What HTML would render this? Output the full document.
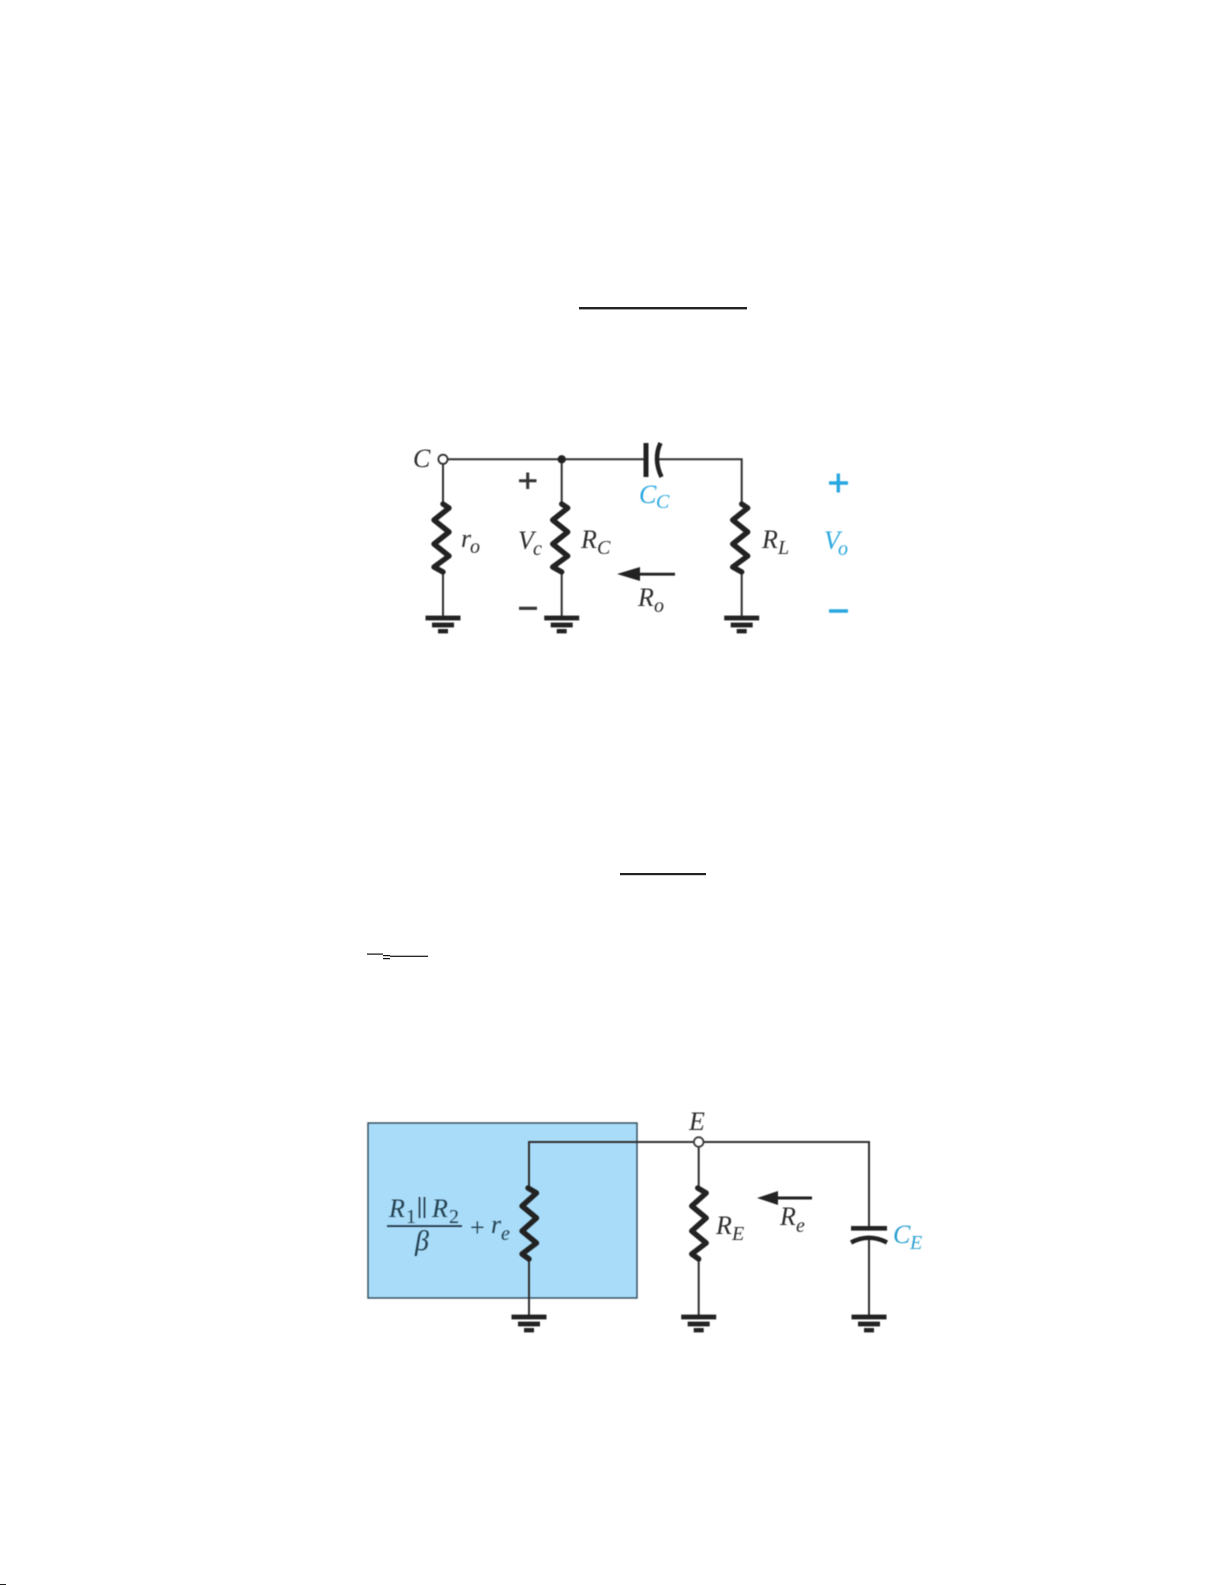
<!DOCTYPE html>
<html>
<head>
<meta charset="utf-8">
<style>
html,body{margin:0;padding:0;background:#fff;width:1225px;height:1585px;overflow:hidden}
svg{display:block}
text{font-family:"Liberation Serif",serif;font-style:italic;fill:#2b2b2b}
.m{font-size:26px}
.s{font-size:20px}
.b{fill:#29a7df}
.w{fill:none;stroke:#2f2f2f;stroke-width:2}
.r{fill:none;stroke:#222;stroke-width:5.4;stroke-linejoin:round;stroke-linecap:round}
.c{filter:blur(.45px)}
.d{fill:#24404f}
</style>
</head>
<body>
<svg width="1225" height="1585" viewBox="0 0 1225 1585" xmlns="http://www.w3.org/2000/svg">
<defs>
<g id="gnd" fill="#222">
<rect x="-17.5" y="-2.4" width="35" height="4.8"/>
<rect x="-11" y="4.6" width="22" height="4.8"/>
<rect x="-5" y="11" width="10" height="4.4"/>
</g>
<path id="res" class="r" d="M0,1 L6,5 L-9,17 L6,29 L-9,41 L6,53 L-9,64 L0,69"/>
<path id="res2" class="r" d="M-1,1 L7.5,6 L-7,19 L7.5,31 L-7,44 L7.5,56 L-7,67 L0,72"/>
</defs>

<!-- stray lines -->
<rect x="579" y="307" width="168" height="2.4" fill="#222"/>
<rect x="620" y="873" width="86" height="2.2" fill="#222"/>
<rect x="367" y="953.5" width="16" height="1.2" fill="#111"/>
<rect x="383" y="955" width="7" height="1.2" fill="#111"/>
<rect x="383" y="958" width="7" height="1.2" fill="#111"/>
<rect x="390" y="955.7" width="38" height="1.2" fill="#111"/>
<rect x="0" y="1584" width="6" height="1" fill="#222"/>

<!-- top circuit -->
<g class="c">
<path class="w" d="M443,459.3H646M656,459.3H741.7V503M741.7,573V618M561.7,459.3V503M561.7,573V618M443,459.3V503M443,573V618"/>
<use href="#res" x="443" y="503"/>
<use href="#res" x="561.7" y="503"/>
<use href="#res" x="741.7" y="503"/>
<use href="#gnd" x="443" y="618"/>
<use href="#gnd" x="561.7" y="618"/>
<use href="#gnd" x="741.7" y="618"/>
<circle cx="443" cy="459.3" r="4.6" fill="#fff" stroke="#2f2f2f" stroke-width="1.8"/>
<circle cx="561.7" cy="459.3" r="4.2" fill="#222"/>
<rect x="643.5" y="443" width="5" height="34" fill="#222"/>
<path d="M660.5,443Q653,459 661.5,477" fill="none" stroke="#222" stroke-width="4.5"/>
<path d="M527.7,472.5V489M519,480.7H536.5" stroke="#333" stroke-width="3" fill="none"/>
<path d="M519,608.3H537" stroke="#333" stroke-width="3.2" fill="none"/>
<path d="M829,483H848M838.3,473.5V492.5" stroke="#29a7df" stroke-width="3.4" fill="none"/>
<path d="M829,611H848" stroke="#29a7df" stroke-width="3.4" fill="none"/>
<path d="M617,574L640,567V572.8H675V575.6H640V581Z" fill="#222"/>
<text class="m" x="413" y="467">C</text>
<text class="m" x="461" y="547">r</text><text class="s" x="470" y="553">o</text>
<text class="m" x="518" y="549">V</text><text class="s" x="533" y="555">c</text>
<text class="m" x="581" y="548">R</text><text class="s" x="597" y="554">C</text>
<text class="m b" x="639" y="503">C</text><text class="s b" x="656" y="508">C</text>
<text class="m" x="638" y="606">R</text><text class="s" x="654" y="612">o</text>
<text class="m" x="762" y="548">R</text><text class="s" x="778" y="554">L</text>
<text class="m b" x="824" y="549">V</text><text class="s b" x="838" y="555">o</text>
</g>

<!-- bottom circuit -->
<g class="c">
<rect x="368" y="1123" width="269" height="175" fill="#a8dcf9" stroke="#2f4a58" stroke-width="1.4"/>
<path class="w" d="M869,1228V1142H529V1187M529,1261V1317M698.7,1142V1187M698.7,1261V1317M869,1237V1317" stroke="#3a3a3a"/>
<use href="#res2" x="529" y="1187"/>
<use href="#res2" x="698.7" y="1187"/>
<use href="#gnd" x="529" y="1317"/>
<use href="#gnd" x="698.7" y="1317"/>
<use href="#gnd" x="869" y="1317"/>
<circle cx="698.7" cy="1142" r="4.8" fill="#fff" stroke="#3a3a3a" stroke-width="1.8"/>
<rect x="851" y="1226" width="36" height="4.6" fill="#222"/>
<path d="M851,1242.5Q869,1233 887,1242.5" fill="none" stroke="#222" stroke-width="4.5"/>
<path d="M757,1198L778,1191V1196.5H812V1199.5H778V1205Z" fill="#222"/>
<rect x="387" y="1225.2" width="75" height="1.8" fill="#234"/>
<path d="M419.5,1197V1218M424.5,1197V1218" stroke="#234" stroke-width="1.6" fill="none"/>
<text class="m d" x="389" y="1217" style="fill:#24404f">R</text>
<text class="s" x="406" y="1223" style="font-style:normal;fill:#24404f">1</text>
<text class="m" x="432" y="1217" style="fill:#24404f">R</text>
<text class="s" x="449" y="1223" style="font-style:normal;fill:#24404f">2</text>
<text class="m" x="415" y="1250" style="fill:#24404f;font-size:28px">β</text>
<text class="m" x="470" y="1236" style="font-style:normal;fill:#24404f">+</text>
<text class="m" x="491" y="1233" style="fill:#24404f">r</text>
<text class="s" x="501" y="1240" style="fill:#24404f">e</text>
<text class="m" x="689" y="1130">E</text>
<text class="m" x="716" y="1234">R</text><text class="s" x="732" y="1240">E</text>
<text class="m" x="780" y="1225">R</text><text class="s" x="796" y="1232">e</text>
<text class="m" x="893" y="1243" style="fill:#2ba0d0">C</text><text class="s" x="910" y="1249" style="fill:#2ba0d0">E</text>
</g>
</svg>
</body>
</html>
